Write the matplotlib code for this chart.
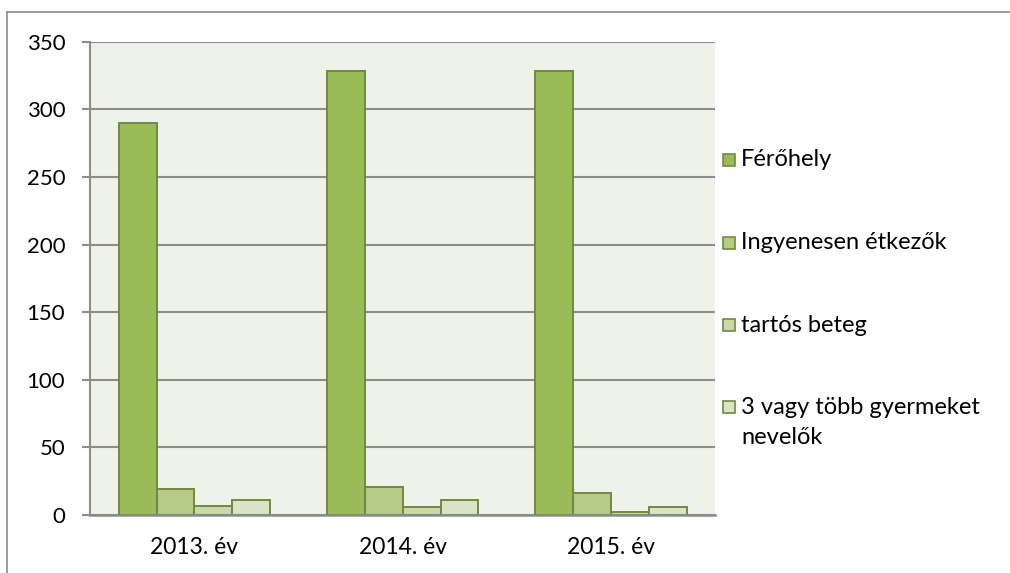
import numpy as np
import matplotlib
matplotlib.use("Agg")
import matplotlib.pyplot as plt
from matplotlib.lines import Line2D
from matplotlib.patches import Rectangle

plt.rcParams['font.family'] = ['Lato', 'DejaVu Sans']

# adatok
years = ["2013. év", "2014. év", "2015. év"]
series_names = ["Férőhely", "Ingyenesen étkezők", "tartós beteg",
                "3 vagy több gyermeket\nnevelők"]
ferohely = [290, 328, 328]
ingyenes = [19, 21, 16]
tartos_beteg = [7, 6, 2]
harom_gyermek = [11, 11, 6]

colors = ["#9BBB59", "#B4CB8A", "#C9D9A9", "#D8E4C5"]
edge = "#71893F"
grid_col = "#8C8C8C"
W, H = 1010, 573

fig = plt.figure(figsize=(W / 100, H / 100), dpi=100)
ax = fig.add_axes([0.0894, 0.1012, 0.6186, 0.826])
ax.set_facecolor("#EEF2E8")

x = np.arange(len(years))
w = 1 / 5.5
all_series = [ferohely, ingyenes, tartos_beteg, harom_gyermek]
for i, (vals, c) in enumerate(zip(all_series, colors)):
    ax.bar(x + (i - 1.5) * w, vals, width=w, color=c, edgecolor=edge,
           linewidth=1.4, zorder=3)

ax.set_xlim(-0.5, 2.5)
ax.set_ylim(0, 350)
ax.set_yticks(range(0, 351, 50))
ax.set_xticks(x)
ax.set_xticklabels(years)
ax.yaxis.grid(True, color=grid_col, linewidth=1.5, zorder=1)
ax.set_axisbelow(True)

for s in ["top", "right"]:
    ax.spines[s].set_visible(False)
ax.spines["left"].set_color(grid_col)
ax.spines["left"].set_linewidth(1.5)
ax.spines["bottom"].set_color(grid_col)
ax.spines["bottom"].set_linewidth(1.8)
ax.spines["bottom"].set_zorder(4)

ax.tick_params(axis="y", length=6, width=1.5, color=grid_col, pad=12,
               labelsize=16)
ax.tick_params(axis="x", length=0, pad=16, labelsize=16.5)

# jelmagyarázat kézzel: négyzet + felirat, a többsoros felirat lefelé folytatódik
leg_y = [160, 243, 325, 407]
for name, c, yy in zip(series_names, colors, leg_y):
    fig.add_artist(Rectangle((723 / W, 1 - (yy + 6) / H), 12 / W, 12 / H,
                             transform=fig.transFigure, facecolor=c,
                             edgecolor=edge, linewidth=1.2))
    for k, line in enumerate(name.split("\n")):
        fig.text(741 / W, 1 - (yy + 30 * k) / H, line, fontsize=17,
                 va="center", ha="left")

# keret
fig.add_artist(Line2D([0.0069, 1.0], [1 - 12 / H, 1 - 12 / H],
                      transform=fig.transFigure, color="#8C8C8C", linewidth=1.2))
fig.add_artist(Line2D([0.0069, 0.0069], [0, 1 - 12 / H],
                      transform=fig.transFigure, color="#8C8C8C", linewidth=1.2))

fig.savefig("out.png", dpi=100)
